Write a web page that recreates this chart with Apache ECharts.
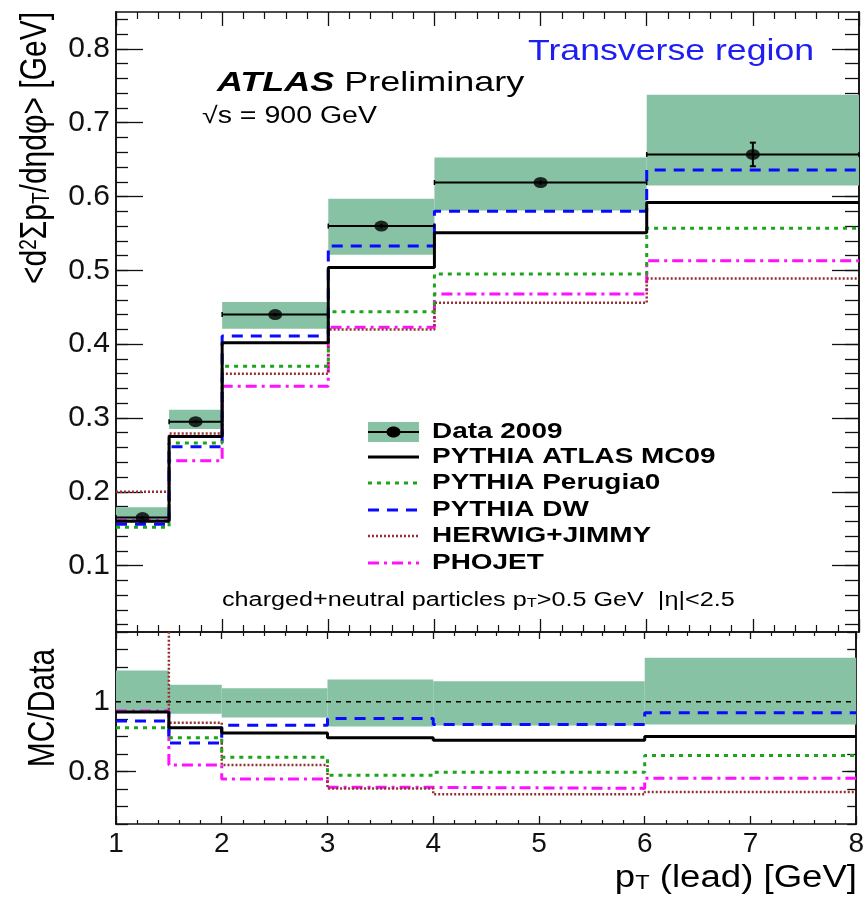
<!DOCTYPE html>
<html>
<head>
<meta charset="utf-8">
<script src="https://cdn.jsdelivr.net/npm/echarts@6/dist/echarts.min.js"></script>
<style>html,body{margin:0;padding:0;background:#fff}#c{width:867px;height:900px}</style>
</head>
<body>
<div id="c"></div>
<script>
// ---- data ----
const binEdges = [1, 1.5, 2, 3, 4, 6, 8];
const dataX = [1.25, 1.75, 2.5, 3.5, 5, 7];
const dataY = [0.165, 0.295, 0.440, 0.560, 0.619, 0.657];
const dataStatErr = [0.002, 0.002, 0.002, 0.003, 0.003, 0.016];
const bandLo = [0.160, 0.285, 0.421, 0.521, 0.581, 0.615];
const bandHi = [0.179, 0.311, 0.457, 0.597, 0.653, 0.738];

const mc09     = [0.160, 0.275, 0.402, 0.504, 0.551, 0.592];
const perugia0 = [0.152, 0.266, 0.370, 0.444, 0.495, 0.557];
const dw       = [0.156, 0.261, 0.411, 0.533, 0.580, 0.636];
const herwig   = [0.200, 0.279, 0.360, 0.420, 0.456, 0.489];
const phojet   = [0.161, 0.242, 0.343, 0.423, 0.468, 0.513];

const bandRLo   = [0.969, 0.966, 0.955, 0.929, 0.932, 0.935];
const bandRHi   = [1.090, 1.049, 1.039, 1.064, 1.059, 1.126];
const rMc09     = [0.971, 0.926, 0.911, 0.897, 0.890, 0.901];
const rPerugia0 = [0.926, 0.897, 0.841, 0.790, 0.798, 0.846];
const rDw       = [0.945, 0.882, 0.933, 0.952, 0.935, 0.969];
const rHerwig   = [1.210, 0.940, 0.819, 0.752, 0.735, 0.742];
const rPhojet   = [0.974, 0.819, 0.779, 0.755, 0.752, 0.781];
const ratioRef  = [1, 1];

const xTicks = [1, 2, 3, 4, 5, 6, 7, 8];
const yTicksUpper = [0.1, 0.2, 0.3, 0.4, 0.5, 0.6, 0.7, 0.8];
const yTicksRatio = [0.8, 1];
const legendNames = ['Data 2009', 'PYTHIA ATLAS MC09', 'PYTHIA Perugia0', 'PYTHIA DW', 'HERWIG+JIMMY', 'PHOJET'];

// ---- styles ----
const FONT = '"Liberation Sans", Arial, Helvetica, sans-serif';
const BAND = '#86c2a3';
const styles = [
  {color: '#000000', width: 3, type: 'solid'},
  {color: '#1aa51a', width: 3, type: [4, 5]},
  {color: '#0a0aff', width: 3, type: [11, 8]},
  {color: '#953030', width: 2.5, type: [2, 2]},
  {color: '#ff10ff', width: 3, type: [11, 5, 3, 5]}
];
const mcUpper = [mc09, perugia0, dw, herwig, phojet];
const mcRatio = [rMc09, rPerugia0, rDw, rHerwig, rPhojet];

function range(a, b, s) { const r = []; for (let v = a; v <= b + 1e-9; v += s) r.push(Math.round(v * 1000) / 1000); return r; }
const yMinorUpper = range(0.02, 0.84, 0.02);
const yMinorRatio = range(0.65, 1.2, 0.05);

function stepData(vals) {
  const d = vals.map((v, i) => [binEdges[i], v]);
  d.push([binEdges[vals.length], vals[vals.length - 1]]);
  return d;
}
function bandData(lo, hi) { return lo.map((v, i) => [binEdges[i], binEdges[i + 1], v, hi[i]]); }

const lineC = '#111';
function xAx(grid, pos, labels, majorLen, minorLen) {
  return {
    type: 'value', gridIndex: grid, position: pos, min: 1, max: 8, interval: 1,
    axisLine: {show: true, onZero: false, lineStyle: {color: lineC, width: 1.6}},
    axisTick: {show: true, inside: true, length: majorLen, lineStyle: {color: lineC, width: 1.3}},
    minorTick: {show: true, splitNumber: 5, length: minorLen, lineStyle: {color: lineC, width: 1.2}},
    splitLine: {show: false},
    axisLabel: labels ? {show: true, customValues: xTicks, fontSize: 28, fontFamily: FONT, color: '#111', margin: 6} : {show: false}
  };
}
function yAx(grid, pos, min, max, ticks, len, labels) {
  return {
    type: 'value', gridIndex: grid, position: pos, min: min, max: max,
    axisLine: {show: true, onZero: false, lineStyle: {color: lineC, width: 1.6}},
    axisTick: {show: true, inside: true, length: len, customValues: ticks, lineStyle: {color: lineC, width: 1.3}},
    splitLine: {show: false},
    axisLabel: labels ? {show: true, customValues: labels, fontSize: 30, fontFamily: FONT, color: '#111', margin: 6} : {show: false}
  };
}

const series = [];
function addBand(data, xi, yi) {
  series.push({
    type: 'custom', xAxisIndex: xi, yAxisIndex: yi, data: data, clip: true, z: 1, silent: true,
    renderItem: function (params, api) {
      const p1 = api.coord([api.value(0), api.value(3)]);
      const p2 = api.coord([api.value(1), api.value(2)]);
      return {type: 'rect', shape: {x: p1[0], y: p1[1], width: p2[0] - p1[0], height: p2[1] - p1[1]}, style: {fill: BAND}};
    }
  });
}
addBand(bandData(bandLo, bandHi), 0, 0);
addBand(bandData(bandRLo, bandRHi), 2, 4);

const drawOrder = [4, 3, 1, 2, 0];
drawOrder.forEach(k => {
  series.push({type: 'line', name: legendNames[k + 1], xAxisIndex: 0, yAxisIndex: 0, step: 'end', symbol: 'none',
    data: stepData(mcUpper[k]), lineStyle: styles[k], z: 3, silent: true, clip: true});
  series.push({type: 'line', name: legendNames[k + 1] + ' ratio', xAxisIndex: 2, yAxisIndex: 4, step: 'end', symbol: 'none',
    data: stepData(mcRatio[k]), lineStyle: styles[k], z: 3, silent: true, clip: true});
});
// reference line at 1
series.push({type: 'line', xAxisIndex: 2, yAxisIndex: 4, symbol: 'none', data: [[binEdges[0], ratioRef[0]], [binEdges[binEdges.length - 1], ratioRef[1]]],
  lineStyle: {color: '#000', width: 1.6, type: [5, 5]}, z: 2, silent: true});

// data error bars
series.push({
  type: 'custom', xAxisIndex: 0, yAxisIndex: 0, z: 5, silent: true,
  data: dataX.map((x, i) => [x, dataY[i], binEdges[i], binEdges[i + 1], dataStatErr[i]]),
  renderItem: function (params, api) {
    const y = api.value(1), e = api.value(4);
    const l = api.coord([api.value(2), y]);
    const r = api.coord([api.value(3), y]);
    const t = api.coord([api.value(0), y + e]);
    const b = api.coord([api.value(0), y - e]);
    const st = {stroke: '#000', lineWidth: 2};
    const ch = [
      {type: 'line', shape: {x1: l[0], y1: l[1], x2: r[0], y2: r[1]}, style: st},
      {type: 'line', shape: {x1: t[0], y1: t[1], x2: b[0], y2: b[1]}, style: st}
    ];
    if (b[1] - t[1] > 12) {
      ch.push({type: 'line', shape: {x1: t[0] - 3, y1: t[1], x2: t[0] + 3, y2: t[1]}, style: st});
      ch.push({type: 'line', shape: {x1: b[0] - 3, y1: b[1], x2: b[0] + 3, y2: b[1]}, style: st});
    }
    ch.push({type: 'line', shape: {x1: l[0], y1: l[1] - 2.5, x2: l[0], y2: l[1] + 2.5}, style: {stroke: '#000', lineWidth: 1.5}});
    ch.push({type: 'line', shape: {x1: r[0], y1: r[1] - 2.5, x2: r[0], y2: r[1] + 2.5}, style: {stroke: '#000', lineWidth: 1.5}});
    return {type: 'group', children: ch};
  }
});
series.push({type: 'scatter', name: legendNames[0], xAxisIndex: 0, yAxisIndex: 0, z: 6, silent: true,
  data: dataX.map((x, i) => [x, dataY[i]]), symbol: 'circle', symbolSize: [14, 11], itemStyle: {color: '#000'}});

// ---- text & legend graphics ----
const graphic = [];
function txt(x, y, text, size, opts) {
  opts = opts || {};
  graphic.push({
    type: 'text', x: x, y: y, scaleX: opts.sx || 1, scaleY: opts.sy || 1, rotation: opts.rot || 0, z: 100, silent: true,
    style: Object.assign({text: text, fontSize: size, fontFamily: FONT, fill: opts.fill || '#000',
      fontWeight: opts.weight || 'normal', textAlign: opts.align || 'left', textVerticalAlign: 'middle'}, opts.rich ? {rich: opts.rich} : {})
  });
}
txt(528, 52, 'Transverse region', 29, {sx: 1.23, fill: '#1e1ef0'});
txt(217, 83, '{b|ATLAS} Preliminary', 28, {sx: 1.285, rich: {b: {fontWeight: 'bold', fontStyle: 'italic', fontSize: 28, fontFamily: FONT}}});
txt(202, 117, '√s = 900 GeV', 23, {sx: 1.24});
txt(222, 600, 'charged+neutral particles p{sub|T}>0.5 GeV  |η|<2.5', 20, {sx: 1.26,
  rich: {sub: {fontSize: 13, fontFamily: FONT, verticalAlign: 'bottom', padding: [0, 0, 0, 0]}}});
txt(857, 878, 'p{sub|T} (lead) [GeV]', 31, {sx: 1.18, align: 'right',
  rich: {sub: {fontSize: 20, fontFamily: FONT, verticalAlign: 'bottom'}}});
txt(36, 12, '<d{sup|2}Σp{sub|T}/dηdφ> [GeV]', 30, {rot: Math.PI / 2, sy: 1.22, align: 'right',
  rich: {sup: {fontSize: 19, fontFamily: FONT, verticalAlign: 'top'}, sub: {fontSize: 19, fontFamily: FONT, verticalAlign: 'bottom'}}});
txt(44, 708, 'MC/Data', 30, {rot: Math.PI / 2, sy: 1.25, align: 'center'});

const legRows = [432, 457, 483, 510, 536, 563];
const lx0 = 368, lx1 = 419;
graphic.push({type: 'rect', shape: {x: lx0, y: legRows[0] - 10, width: lx1 - lx0, height: 20}, style: {fill: BAND}, z: 100, silent: true});
graphic.push({type: 'line', shape: {x1: lx0, y1: legRows[0], x2: lx1, y2: legRows[0]}, style: {stroke: '#000', lineWidth: 2}, z: 101, silent: true});
graphic.push({type: 'ellipse', shape: {cx: (lx0 + lx1) / 2, cy: legRows[0], rx: 7, ry: 5.5}, style: {fill: '#000'}, z: 102, silent: true});
for (let k = 0; k < 5; k++) {
  const s = styles[k];
  graphic.push({type: 'line', shape: {x1: lx0, y1: legRows[k + 1], x2: lx1, y2: legRows[k + 1]},
    style: {stroke: s.color, lineWidth: s.width, lineDash: Array.isArray(s.type) ? s.type : null}, z: 100, silent: true});
}
legendNames.forEach((n, i) => txt(432, legRows[i], n, 22, {sx: 1.27, weight: 'bold'}));

const option = {
  animation: false,
  backgroundColor: '#fff',
  grid: [
    {left: 116, right: 8, top: 12, height: 620},
    {left: 116, right: 8, top: 632, height: 192}
  ],
  xAxis: [xAx(0, 'bottom', false, 13, 7), xAx(0, 'top', false, 14, 7), xAx(1, 'bottom', true, 8, 4), xAx(1, 'top', false, 7, 4)],
  yAxis: [
    yAx(0, 'left', 0.01, 0.85, yTicksUpper, 27, yTicksUpper),
    yAx(0, 'left', 0.01, 0.85, yMinorUpper, 12, null),
    yAx(0, 'right', 0.01, 0.85, yTicksUpper, 27, null),
    yAx(0, 'right', 0.01, 0.85, yMinorUpper, 14, null),
    yAx(1, 'left', 0.65, 1.2, yTicksRatio, 20, yTicksRatio),
    yAx(1, 'left', 0.65, 1.2, yMinorRatio, 12, null),
    yAx(1, 'right', 0.65, 1.2, yTicksRatio, 14, null),
    yAx(1, 'right', 0.65, 1.2, yMinorRatio, 9, null)
  ],
  series: series,
  graphic: graphic
};
const chart = echarts.init(document.getElementById('c'));
chart.setOption(option);
</script>
</body>
</html>
